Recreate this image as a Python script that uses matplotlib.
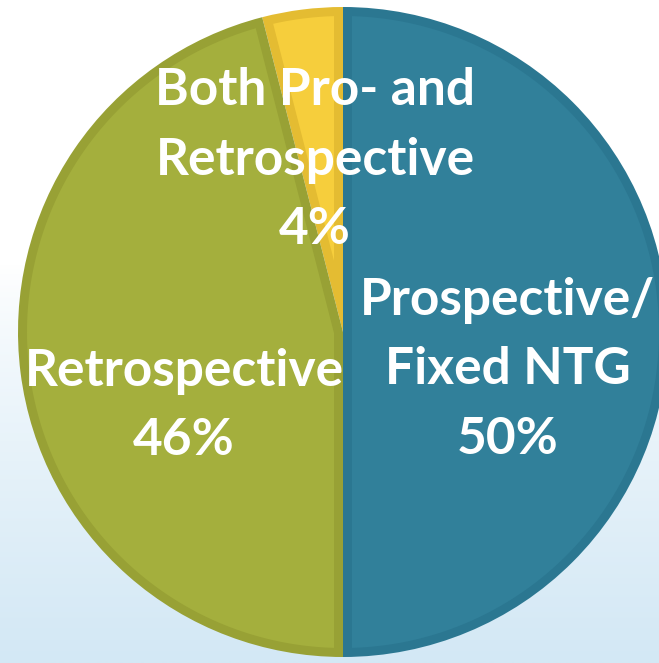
import matplotlib
matplotlib.use("Agg")
import matplotlib.pyplot as plt
import numpy as np
from matplotlib.colors import LinearSegmentedColormap
from matplotlib.patches import Polygon

labels = ["Both Pro- and\nRetrospective\n4%", "Retrospective\n46%", "Prospective/\nFixed NTG\n50%"]
values = [4, 46, 50]
fill_colors = ["#F6CE3C", "#A4AF3D", "#31809A"]
rim_colors = ["#E4BC32", "#98A135", "#2B7791"]

W, H = 659, 663
fig = plt.figure(figsize=(W / 100, H / 100), dpi=100)
ax = fig.add_axes([0, 0, 1, 1])

# background gradient: white top, light blue bottom
t = np.linspace(0, 1, 512).reshape(-1, 1)  # 0 = top, 1 = bottom
g = np.clip((t - 0.40) / 0.60, 0, 1) ** 0.8
cmap = LinearSegmentedColormap.from_list("bg", ["#FFFFFF", "#D3E8F5"])
ax.imshow(g, extent=[0, W, 0, H], cmap=cmap, vmin=0, vmax=1, aspect="auto",
          zorder=0, origin="upper")

cx, cy, r = 343, H - 332, 325
rim = 9
# outer wedges in rim colour
wedges, _ = ax.pie(values, colors=rim_colors, startangle=90, counterclock=True,
                   center=(cx, cy), radius=r, frame=True)
ax.set_xlim(0, W)
ax.set_ylim(0, H)
ax.set_aspect("auto")
ax.axis("off")


def inner_polygon(w, d):
    (x0, y0), rr = w.center, w.r
    t1, t2 = np.radians(w.theta1), np.radians(w.theta2)
    half = (t2 - t1) / 2
    mid = (t1 + t2) / 2
    apex = d / np.sin(min(half, np.pi / 2))
    rin = rr - d
    da = np.arcsin(d / rin)
    th = np.linspace(t1 + da, t2 - da, 200)
    pts = [(x0 + apex * np.cos(mid), y0 + apex * np.sin(mid))]
    pts += list(zip(x0 + rin * np.cos(th), y0 + rin * np.sin(th)))
    return pts


for w, fc in zip(wedges, fill_colors):
    w.set_zorder(2)
    ax.add_patch(Polygon(inner_polygon(w, rim), closed=True, facecolor=fc,
                         edgecolor="none", zorder=3))

font = dict(family=["Lato", "DejaVu Sans"], fontweight="bold", color="white",
            fontsize=37, ha="center", va="center", linespacing=1.6, zorder=5)
label_pos = [(315, 160), (184, 406), (508, 370)]
for lab, (x, y) in zip(labels, label_pos):
    ax.text(x, H - y, lab, **font)

fig.savefig("out.png", dpi=100)
